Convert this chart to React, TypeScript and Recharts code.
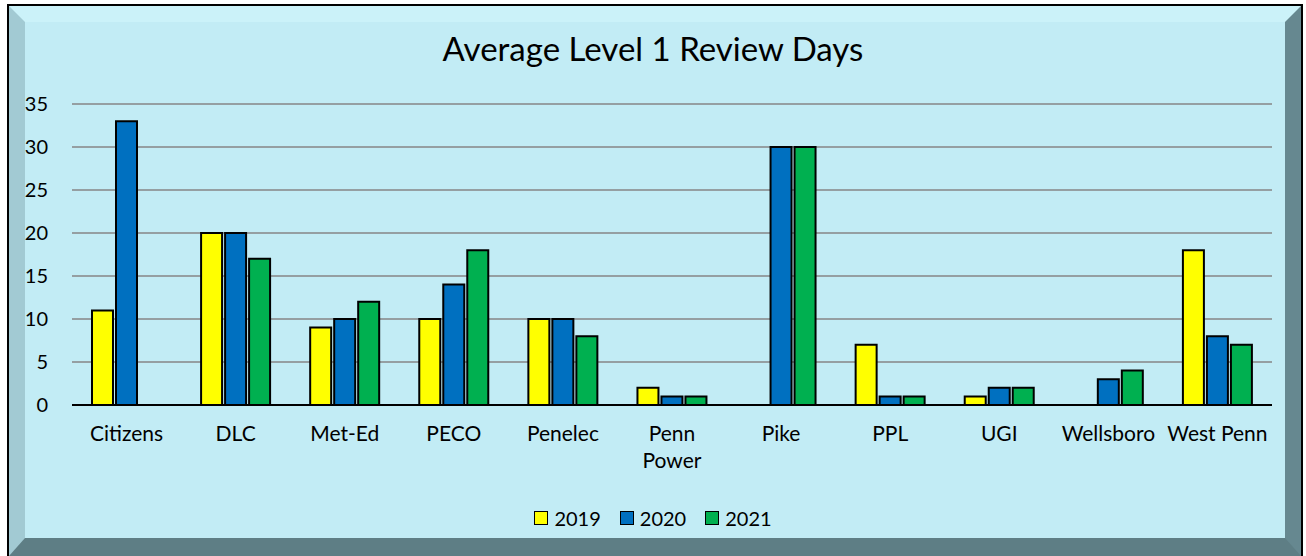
import { BarChart, Bar, XAxis, YAxis, CartesianGrid, Legend } from 'recharts'

const categories = ['Citizens', 'DLC', 'Met-Ed', 'PECO', 'Penelec', 'Penn Power', 'Pike', 'PPL', 'UGI', 'Wellsboro', 'West Penn']
const days2019 = [11, 20, 9, 10, 10, 2, null, 7, 1, null, 18]
const days2020 = [33, 20, 10, 14, 10, 1, 30, 1, 2, 3, 8]
const days2021 = [null, 17, 12, 18, 8, 1, 30, 1, 2, 4, 7]
const yTicks = [0, 5, 10, 15, 20, 25, 30, 35]

const FONT = 'Lato, "Noto Sans", sans-serif'

const data = categories.map((name, i) => ({
  name,
  y2019: days2019[i],
  y2020: days2020[i],
  y2021: days2021[i],
}))

// Excel wrapped only "Penn Power" onto two lines
const XTick = ({ x, y, payload }: any) => {
  const words: string[] = payload.value.length > 9 ? payload.value.split(' ') : [payload.value]
  return (
    <text x={x} y={y} textAnchor="middle" fontSize={21} fontFamily={FONT} fill="#000">
      {words.map((w, i) => (
        <tspan key={i} x={x} dy={i === 0 ? '0.71em' : 27}>{w}</tspan>
      ))}
    </text>
  )
}

const LegendContent = ({ payload }: any) => (
  <div style={{ display: 'flex', justifyContent: 'center', gap: 19, fontFamily: FONT, fontSize: 20, color: '#000' }}>
    {(payload || []).map((p: any) => (
      <div key={p.value} style={{ display: 'flex', alignItems: 'center', gap: 6 }}>
        <span style={{ width: 12, height: 12, background: p.color, border: '1.5px solid #000', display: 'inline-block' }} />
        <span>{p.value}</span>
      </div>
    ))}
  </div>
)

export default function App() {
  return (
    <div style={{ position: 'absolute', left: 0, top: 0, width: 1306, height: 556, overflow: 'hidden', background: '#fff' }}>
      <div style={{
        position: 'absolute', left: 7, top: 4, width: 1292, height: 550,
        borderTop: '2px solid #000', borderLeft: '2px solid #000', borderRight: '2px solid #000',
      }}>
        <div style={{
          position: 'absolute', left: 0, top: 0, right: 0, bottom: 0,
          background: '#C2ECF5',
          borderTop: '16px solid #CBF2F9',
          borderLeft: '16px solid #A2CAD3',
          borderRight: '16px solid #668890',
          borderBottom: '18px solid #5E7E85',
        }} />
      </div>
      <div style={{
        position: 'absolute', left: 0, top: 28, width: 1306, textAlign: 'center',
        fontFamily: FONT, fontSize: 33, color: '#000',
      }}>
        Average Level 1 Review Days
      </div>
      <div style={{ position: 'absolute', left: 0, top: 0 }}>
        <BarChart
          width={1306}
          height={556}
          data={data}
          margin={{ top: 104, right: 34, bottom: 121, left: 22 }}
          barSize={21}
          barGap={3}
        >
          <CartesianGrid horizontal vertical={false} stroke="#868686" strokeWidth={1.5} />
          <XAxis
            dataKey="name"
            height={30}
            tick={<XTick />}
            tickLine={false}
            axisLine={{ stroke: '#000', strokeWidth: 2 }}
            tickSize={0}
            tickMargin={21}
            interval={0}
          />
          <YAxis
            width={50}
            domain={[0, 35]}
            ticks={yTicks}
            axisLine={false}
            tickLine={false}
            tickSize={0}
            tickMargin={24}
            tick={{ fontSize: 20, fontFamily: FONT, fill: '#000' }}
          />
          <Legend
            verticalAlign="middle"
            layout="horizontal"
            content={<LegendContent />}
            wrapperStyle={{ position: 'absolute', top: 506, left: 0, width: 1306 }}
          />
          <Bar dataKey="y2019" name="2019" fill="#FFFF00" stroke="#000" strokeWidth={2} isAnimationActive={false} />
          <Bar dataKey="y2020" name="2020" fill="#0070C0" stroke="#000" strokeWidth={2} isAnimationActive={false} />
          <Bar dataKey="y2021" name="2021" fill="#00B050" stroke="#000" strokeWidth={2} isAnimationActive={false} />
        </BarChart>
      </div>
    </div>
  )
}
